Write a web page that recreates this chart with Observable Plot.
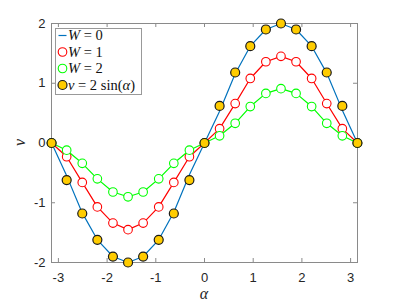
<!DOCTYPE html>
<html>
<head>
<meta charset="utf-8">
<script src="https://cdn.jsdelivr.net/npm/d3@7"></script>
<script src="https://cdn.jsdelivr.net/npm/@observablehq/plot@0.6"></script>
<style>
  html, body { margin: 0; padding: 0; background: #fff; }
  #chart { width: 395px; height: 305px; }
</style>
</head>
<body>
<div id="chart"></div>
<script>
// ---- data ----
const alpha = [-3.14, -2.83, -2.51, -2.20, -1.88, -1.57, -1.26, -0.94, -0.63, -0.31, 0,
               0.31, 0.63, 0.94, 1.26, 1.57, 1.88, 2.20, 2.51, 2.83, 3.14];
const vW0 = [0, -0.55, -1.17, -1.62, -1.90, -2.00, -1.90, -1.62, -1.16, -0.53, 0,
             0.53, 1.16, 1.62, 1.90, 2.00, 1.90, 1.62, 1.17, 0.55, 0];
const vW1 = [0, -0.23, -0.66, -1.07, -1.34, -1.45, -1.34, -1.07, -0.66, -0.23, 0,
             0.24, 0.66, 1.08, 1.36, 1.45, 1.36, 1.08, 0.66, 0.24, 0];
const vW2 = [0, -0.12, -0.34, -0.60, -0.82, -0.90, -0.82, -0.60, -0.34, -0.12, 0,
             0.12, 0.33, 0.61, 0.83, 0.91, 0.83, 0.61, 0.33, 0.12, 0];
const vSin = [0, -0.62, -1.18, -1.62, -1.90, -2.00, -1.90, -1.62, -1.18, -0.62, 0,
              0.62, 1.18, 1.62, 1.90, 2.00, 1.90, 1.62, 1.18, 0.62, 0];
const xTicks = [-3, -2, -1, 0, 1, 2, 3];
const yTicks = [-2, -1, 0, 1, 2];
const legendLabels = [["W", " = 0"], ["W", " = 1"], ["W", " = 2"]];

const rows = (vals) => alpha.map((a, i) => ({a, v: vals[i]}));
const d0 = rows(vW0), d1 = rows(vW1), d2 = rows(vW2), ds = rows(vSin);

const W = 395, H = 305, mL = 51, mR = 38, mT = 23, mB = 43;
const pw = W - mL - mR, ph = H - mT - mB;
const axisColor = "#8a8a8a";
const cBlue = "#0072BD", cRed = "#FF0000", cGreen = "#00FF00", cYellow = "#FFCC00";
const tk = 4;

const chart = Plot.plot({
  width: W, height: H,
  marginLeft: mL, marginRight: mR, marginTop: mT, marginBottom: mB,
  style: {fontFamily: "'Liberation Sans', Arial, sans-serif", fontSize: "13px", color: "#262626", background: "#fff"},
  x: {domain: [-Math.PI, Math.PI]},
  y: {domain: [-2, 2]},
  marks: [
    Plot.frame({stroke: axisColor}),
    // inward ticks on all four sides
    Plot.tickX(xTicks, {x: d => d, stroke: axisColor, insetTop: ph - tk}),
    Plot.tickX(xTicks, {x: d => d, stroke: axisColor, insetBottom: ph - tk}),
    Plot.tickY(yTicks, {y: d => d, stroke: axisColor, insetRight: pw - tk}),
    Plot.tickY(yTicks, {y: d => d, stroke: axisColor, insetLeft: pw - tk}),
    Plot.axisX({ticks: xTicks, tickSize: 0, tickPadding: 10, tickFormat: d => String(d), fill: "#262626", fontSize: 13, label: null}),
    Plot.axisY({ticks: yTicks, tickSize: 0, tickPadding: 6, tickFormat: d => String(d), fill: "#262626", fontSize: 13, label: null}),
    Plot.line(d0, {x: "a", y: "v", stroke: cBlue, strokeWidth: 1.2}),
    Plot.line(d1, {x: "a", y: "v", stroke: cRed, strokeWidth: 1.2}),
    Plot.dot(d1, {x: "a", y: "v", r: 4.3, stroke: cRed, fill: "#fff", strokeWidth: 1.1}),
    Plot.line(d2, {x: "a", y: "v", stroke: cGreen, strokeWidth: 1.2}),
    Plot.dot(d2, {x: "a", y: "v", r: 4.3, stroke: cGreen, fill: "#fff", strokeWidth: 1.1}),
    Plot.dot(ds, {x: "a", y: "v", r: 4.5, stroke: "#1a1a1a", fill: cYellow, strokeWidth: 1.2})
  ]
});
document.getElementById("chart").appendChild(chart);

const svg = d3.select(chart);
const serif = "'Liberation Serif', 'Times New Roman', serif";

// axis labels
svg.append("text").attr("x", mL + pw / 2).attr("y", 299)
  .attr("text-anchor", "middle").attr("font-family", serif).attr("font-style", "italic")
  .attr("font-size", 16).attr("fill", "#262626").text("α");
svg.append("text").attr("transform", `translate(25,${mT + ph / 2}) rotate(-90)`)
  .attr("text-anchor", "middle").attr("font-family", serif).attr("font-style", "italic")
  .attr("font-size", 16).attr("fill", "#262626").text("v");

// legend
const lg = svg.append("g").attr("transform", "translate(55.5,28.5)").attr("text-anchor", "start");
lg.append("rect").attr("width", 86).attr("height", 66).attr("fill", "#fff").attr("stroke", "#999");
const rowY = [7, 23.5, 40, 56.5];
lg.append("line").attr("x1", 3).attr("x2", 11).attr("y1", rowY[0]).attr("y2", rowY[0]).attr("stroke", cBlue).attr("stroke-width", 1.2);
lg.append("line").attr("x1", 3).attr("x2", 11).attr("y1", rowY[1]).attr("y2", rowY[1]).attr("stroke", cRed).attr("stroke-width", 1.2);
lg.append("circle").attr("cx", 7).attr("cy", rowY[1]).attr("r", 4.3).attr("fill", "#fff").attr("stroke", cRed).attr("stroke-width", 1.1);
lg.append("line").attr("x1", 3).attr("x2", 11).attr("y1", rowY[2]).attr("y2", rowY[2]).attr("stroke", cGreen).attr("stroke-width", 1.2);
lg.append("circle").attr("cx", 7).attr("cy", rowY[2]).attr("r", 4.3).attr("fill", "#fff").attr("stroke", cGreen).attr("stroke-width", 1.1);
lg.append("circle").attr("cx", 7).attr("cy", rowY[3]).attr("r", 4.5).attr("fill", cYellow).attr("stroke", "#1a1a1a").attr("stroke-width", 1.2);

const fs = 14.5;
legendLabels.forEach((lab, i) => {
  const t = lg.append("text").attr("x", 12.5).attr("y", rowY[i] + 4.8)
    .attr("text-anchor", "start").style("white-space", "pre")
    .attr("font-family", serif).attr("font-size", fs).attr("fill", "#111");
  t.append("tspan").attr("font-style", "italic").text(lab[0]);
  t.append("tspan").text(lab[1]);
});
{
  const t = lg.append("text").attr("x", 12.5).attr("y", rowY[3] + 4.8)
    .attr("text-anchor", "start").style("white-space", "pre")
    .attr("font-family", serif).attr("font-size", fs).attr("fill", "#111");
  t.append("tspan").attr("font-style", "italic").text("v");
  t.append("tspan").text(" = 2 sin(");
  t.append("tspan").attr("font-style", "italic").text("α");
  t.append("tspan").text(")");
}
</script>
</body>
</html>
